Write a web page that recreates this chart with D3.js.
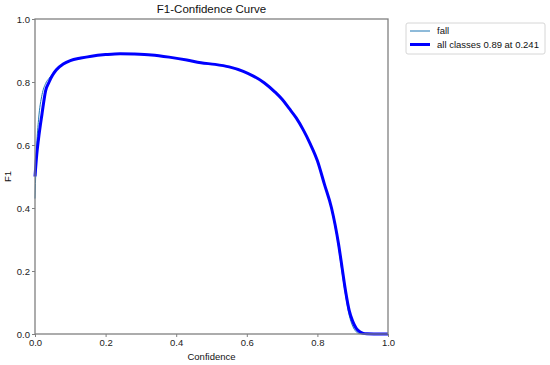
<!DOCTYPE html>
<html>
<head>
<meta charset="utf-8">
<script src="https://cdn.jsdelivr.net/npm/d3@7"></script>
<style>
  body { margin: 0; background: #fff; }
  text { font-family: "Liberation Sans", Arial, sans-serif; }
</style>
</head>
<body>
<svg id="chart" width="550" height="365"></svg>
<script>
// confidence grid (x) and F1 values
var confidence = [0, 0.005, 0.01, 0.02, 0.03, 0.04, 0.05, 0.06, 0.08, 0.10, 0.13, 0.16, 0.20, 0.241,
    0.28, 0.33, 0.38, 0.43, 0.47, 0.51, 0.55, 0.59, 0.62, 0.65, 0.68, 0.70, 0.72, 0.74, 0.76, 0.78,
    0.80, 0.82, 0.84, 0.86, 0.87, 0.88, 0.89, 0.90, 0.91, 0.92, 0.93, 0.94, 0.96, 1.0];
var fallF1 = [0.43, 0.60, 0.68, 0.76, 0.795, 0.812, 0.826, 0.84, 0.857, 0.868, 0.876, 0.882, 0.887, 0.89,
    0.889, 0.886, 0.879, 0.870, 0.861, 0.856, 0.848, 0.834, 0.818, 0.797, 0.768, 0.745, 0.716, 0.686, 0.648, 0.603,
    0.55, 0.475, 0.395, 0.275, 0.195, 0.122, 0.06, 0.025, 0.007, 0.001, 0, 0, 0, 0];
var allF1 = [0.50, 0.57, 0.62, 0.70, 0.772, 0.80, 0.822, 0.838, 0.857, 0.868, 0.876, 0.882, 0.887, 0.89,
    0.889, 0.886, 0.879, 0.870, 0.861, 0.856, 0.848, 0.834, 0.818, 0.797, 0.768, 0.745, 0.716, 0.686, 0.648, 0.603,
    0.55, 0.475, 0.40, 0.285, 0.21, 0.135, 0.075, 0.04, 0.018, 0.007, 0.002, 0.0005, 0, 0];
var seriesNames = ["fall", "all classes 0.89 at 0.241"];
var xTicks = [0, 0.2, 0.4, 0.6, 0.8, 1.0];
var yTicks = [0, 0.2, 0.4, 0.6, 0.8, 1.0];

var svg = d3.select("#chart");
var plotL = 35, plotR = 388, plotT = 19, plotB = 334;

var x = d3.scaleLinear().domain([0, 1]).range([plotL, plotR]);
var y = d3.scaleLinear().domain([0, 1]).range([plotB, plotT]);

var line = d3.line()
    .x(function(d, i){ return x(confidence[i]); })
    .y(function(d){ return y(d); })
    .curve(d3.curveMonotoneX);

var plot = svg.append("g");

plot.append("path")
    .datum(fallF1)
    .attr("d", line)
    .attr("fill", "none")
    .attr("stroke", "#1f77b4")
    .attr("stroke-width", 1);

plot.append("path")
    .datum(allF1)
    .attr("d", line)
    .attr("fill", "none")
    .attr("stroke", "blue")
    .attr("stroke-width", 3);

// frame
svg.append("rect")
    .attr("x", plotL).attr("y", plotT)
    .attr("width", plotR - plotL).attr("height", plotB - plotT)
    .attr("fill", "none")
    .attr("stroke", "#808080")
    .attr("stroke-width", 1.3);

var xAxis = svg.append("g")
    .attr("transform", "translate(0," + plotB + ")")
    .call(d3.axisBottom(x).tickValues(xTicks).tickFormat(d3.format(".1f")).tickSize(3).tickPadding(2));
var yAxis = svg.append("g")
    .attr("transform", "translate(" + plotL + ",0)")
    .call(d3.axisLeft(y).tickValues(yTicks).tickFormat(d3.format(".1f")).tickSize(3).tickPadding(2));

[xAxis, yAxis].forEach(function(a){
    a.select(".domain").remove();
    a.selectAll("line").attr("stroke", "#808080");
    a.selectAll("text").attr("fill", "#222").style("font-size", "9.5px")
        .style("font-family", "'Liberation Sans', Arial, sans-serif");
});

svg.append("text")
    .attr("x", (plotL + plotR) / 2).attr("y", 13)
    .attr("text-anchor", "middle")
    .style("font-size", "11.5px")
    .attr("fill", "#111")
    .text("F1-Confidence Curve");

svg.append("text")
    .attr("x", (plotL + plotR) / 2).attr("y", 360)
    .attr("text-anchor", "middle")
    .style("font-size", "9.5px")
    .attr("fill", "#111")
    .text("Confidence");

svg.append("text")
    .attr("transform", "translate(11," + ((plotT + plotB) / 2) + ") rotate(-90)")
    .attr("text-anchor", "middle")
    .style("font-size", "9.5px")
    .attr("fill", "#111")
    .text("F1");

// legend
var legend = svg.append("g").attr("transform", "translate(406,23)");
legend.append("rect")
    .attr("width", 139).attr("height", 31).attr("rx", 2)
    .attr("fill", "#fff")
    .attr("stroke", "#d6d6d6");
var items = legend.selectAll(".item")
    .data(seriesNames)
    .enter()
    .append("g")
    .attr("class", "item")
    .attr("transform", function(d, i){ return "translate(0," + (8 + i * 13.5) + ")"; });
items.append("line")
    .attr("x1", 4).attr("x2", 24)
    .attr("stroke", function(d, i){ return i == 0 ? "#1f77b4" : "blue"; })
    .attr("stroke-width", function(d, i){ return i == 0 ? 1 : 3; });
items.append("text")
    .attr("x", 31).attr("dy", "0.35em")
    .style("font-size", "9.5px")
    .attr("fill", "#111")
    .text(function(d){ return d; });
</script>
</body>
</html>
